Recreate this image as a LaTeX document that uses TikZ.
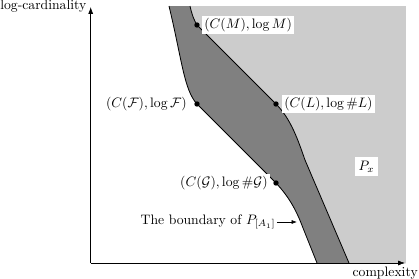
\documentclass[tikz,border=0pt]{standalone}
\usetikzlibrary{arrows.meta}
\begin{document}
\begin{tikzpicture}[x=0.73pt,y=-0.73pt,
  dot/.style={circle,fill=black,inner sep=0pt,minimum size=3.9pt},
  lbl/.style={fill=white,inner sep=1.5pt},
  curve/.style={line width=0.6pt},
  axis/.style={line width=0.5pt,-{Latex[length=5pt,width=3.6pt]}}]
\useasboundingbox (0,0) rectangle (419,279);
\coordinate (O) at (90.7,263);
\coordinate (Ytip) at (90.7,7);
\coordinate (Xtip) at (405,263);
\coordinate (M) at (197,25);
\coordinate (F) at (197,104);
\coordinate (L) at (276,104);
\coordinate (G) at (276,183);
% regions
\fill[black!50] (169,6) .. controls (182,60) and (184,90) .. (F) -- (G)
  .. controls (290,198) and (297,212) .. (303,228) -- (317,263) -- (406,263) -- (406,6) -- cycle;
\fill[black!20] (190,6) .. controls (192,15) and (194,20) .. (M) -- (L)
  .. controls (291,119) and (298,140) .. (305,160) -- (349,263) -- (406,263) -- (406,6) -- cycle;
% boundaries
\draw[curve] (169,6) .. controls (182,60) and (184,90) .. (F) -- (G)
  .. controls (290,198) and (297,212) .. (303,228) -- (317,263);
\draw[curve] (190,6) .. controls (192,15) and (194,20) .. (M) -- (L)
  .. controls (291,119) and (298,140) .. (305,160) -- (349,263);
% axes
\draw[axis] (O) -- (Ytip);
\draw[axis] (O) -- (Xtip);
\node[anchor=base west,inner sep=0pt] (ylab) at (0,9.6) {log-cardinality};
\node[anchor=base east,inner sep=0pt] (xlab) at (418,276) {complexity};
% points
\node[dot] (dM) at (M) {};
\node[dot] (dF) at (F) {};
\node[dot] (dL) at (L) {};
\node[dot] (dG) at (G) {};
% labels
\node[lbl,anchor=west] (lM) at (202,25) {$(C(M),\log M)$};
\node[lbl,anchor=west] (lL) at (282,104) {$(C(L),\log\#L)$};
\node[lbl,anchor=east] (lF) at (189,104) {$(C(\mathcal{F}),\log\mathcal{F})$};
\node[lbl,anchor=east] (lG) at (270,183) {$(C(\mathcal{G}),\log\#\mathcal{G})$};
\node[lbl,inner sep=2.5pt] (Px) at (366.5,166.5) {$P_x$};
\node[anchor=east,inner sep=1pt] (bd) at (277,222) {The boundary of $P_{[A_1]}$};
\coordinate (bt) at (297,222);
\draw[line width=0.5pt,-{Latex[length=4pt,width=3pt]}] (bd.east) -- (bt);
\end{tikzpicture}
\end{document}
